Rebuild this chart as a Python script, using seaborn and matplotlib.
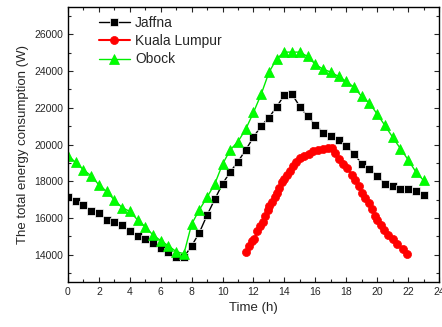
import numpy as np
import pandas as pd
import seaborn as sns
import matplotlib
matplotlib.use("Agg")
import matplotlib.pyplot as plt
from matplotlib.ticker import MultipleLocator

# hourly (half-hour) series
hours = [0, 0.5, 1, 1.5, 2, 2.5, 3, 3.5, 4, 4.5, 5, 5.5, 6, 6.5, 7, 7.5,
         8, 8.5, 9, 9.5, 10, 10.5, 11, 11.5, 12, 12.5, 13, 13.5, 14, 14.5, 15, 15.5,
         16, 16.5, 17, 17.5, 18, 18.5, 19, 19.5, 20, 20.5, 21, 21.5, 22, 22.5, 23]

jaffna = [17150, 16930, 16700, 16400, 16280, 15900, 15770, 15600, 15300, 15000,
          14870, 14620, 14350, 14110, 13860, 13860, 14470, 15200, 16150, 17020,
          17860, 18510, 19070, 19710, 20400, 21020, 21470, 22060, 22700, 22730,
          22070, 21530, 21080, 20650, 20480, 20220, 19930, 19490, 18950, 18680,
          18290, 17860, 17710, 17600, 17600, 17460, 17240]

obock = [19400, 19020, 18620, 18290, 17800, 17440, 16970, 16560, 16350, 15890,
         15510, 15060, 14760, 14470, 14160, 14040, 15660, 16440, 17130, 17860,
         18930, 19710, 20160, 20840, 21750, 22750, 23930, 24680, 25040, 25040,
         25040, 24800, 24370, 24110, 23950, 23710, 23440, 23130, 22620, 22260,
         21660, 21040, 20400, 19780, 19170, 18510, 18040]

# Kuala Lumpur is sampled more densely and irregularly
kl_hours = [11.5, 11.74, 11.93, 12.06, 12.25, 12.43, 12.6, 12.77, 12.94, 13.03,
            13.2, 13.38, 13.5, 13.68, 13.86, 14.0, 14.16, 14.33, 14.54, 14.76,
            15.0, 15.28, 15.58, 15.88, 16.2, 16.52, 16.85, 17.05, 17.28, 17.55,
            17.82, 18.07, 18.36, 18.58, 18.8, 19.0, 19.22, 19.5, 19.66, 19.87,
            20.02, 20.26, 20.45, 20.73, 21.01, 21.31, 21.66, 21.96]
kuala = [14110, 14440, 14710, 14870, 15260, 15570, 15750, 16110, 16440, 16620,
         16890, 17160, 17380, 17620, 17930, 18110, 18350, 18580, 18840, 19060,
         19240, 19380, 19490, 19620, 19710, 19750, 19800, 19810, 19530, 19200,
         18950, 18710, 18350, 18040, 17710, 17380, 17080, 16800, 16480, 16110,
         15890, 15620, 15310, 15080, 14840, 14580, 14300, 14040]

df_j = pd.DataFrame({"t": hours, "w": jaffna})
df_o = pd.DataFrame({"t": hours, "w": obock})
df_k = pd.DataFrame({"t": kl_hours, "w": kuala})

sns.set_style("ticks")
plt.rcParams['font.family'] = ['Liberation Sans', 'DejaVu Sans']

fig = plt.figure(figsize=(4.42, 3.27), dpi=100)
ax = fig.add_axes([0.1538, 0.1376, 0.8394, 0.841])

sns.lineplot(data=df_j, x="t", y="w", ax=ax, color="black", marker="s",
             markersize=5.5, markeredgewidth=0.5, linewidth=1, label="Jaffna")
sns.lineplot(data=df_k, x="t", y="w", ax=ax, color="#ff0000", marker="o",
             markersize=5.8, markeredgewidth=0.5, markeredgecolor="#ff0000",
             linewidth=1.5, label="Kuala Lumpur")
sns.lineplot(data=df_o, x="t", y="w", ax=ax, color="#00ee00", marker="^",
             markersize=6.5, markeredgewidth=0.5, markeredgecolor="#00ee00",
             markerfacecolor="#00ff00", linewidth=1, label="Obock")

ax.set_xlim(0, 24)
ax.set_ylim(12500, 27500)
ax.xaxis.set_major_locator(MultipleLocator(2))
ax.xaxis.set_minor_locator(MultipleLocator(1))
ax.yaxis.set_major_locator(MultipleLocator(2000))
ax.yaxis.set_minor_locator(MultipleLocator(1000))
ax.set_yticks([14000, 16000, 18000, 20000, 22000, 24000, 26000])
ax.tick_params(which="both", direction="in", top=True, right=True, labelsize=7.5)
ax.tick_params(which="major", length=3.5, width=0.8)
ax.tick_params(which="minor", length=2, width=0.8)
for s in ax.spines.values():
    s.set_linewidth(1)
    s.set_color("black")

ax.set_xlabel("Time (h)", fontsize=9.5)
ax.set_ylabel("The total energy consumption (W)", fontsize=9.5)

ax.legend(loc="upper left", bbox_to_anchor=(0.084, 0.967), frameon=False,
          fontsize=10, borderpad=0, borderaxespad=0, labelspacing=0.3,
          handlelength=2.2, handletextpad=0.4)

fig.savefig("out.png", dpi=100)
